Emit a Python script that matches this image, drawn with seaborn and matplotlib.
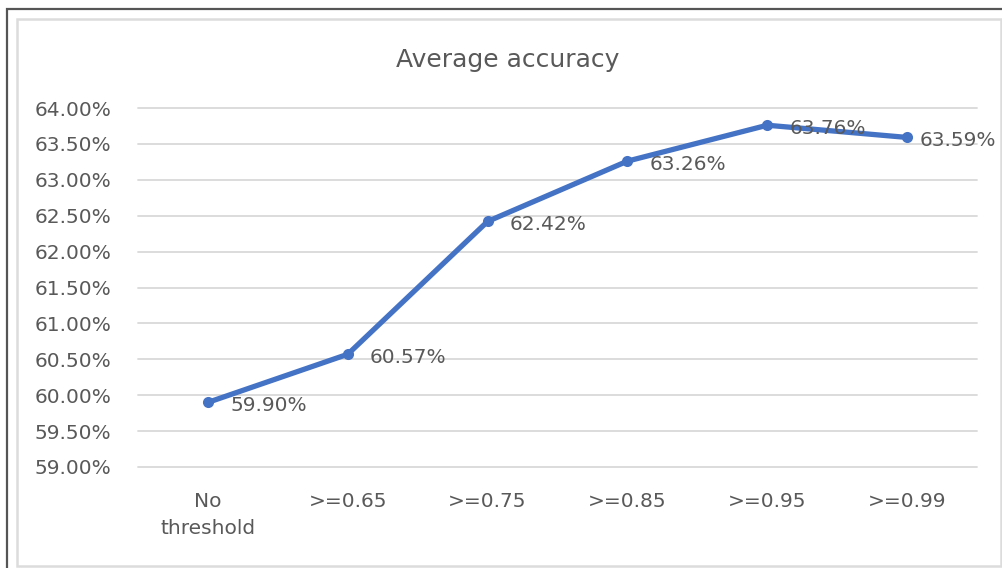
import matplotlib
matplotlib.use("Agg")
import matplotlib.pyplot as plt
from matplotlib.patches import Rectangle
from matplotlib.ticker import FuncFormatter, MultipleLocator
import seaborn as sns
import pandas as pd

# Accuracy per confidence threshold
thresholds = ["No\nthreshold", ">=0.65", ">=0.75", ">=0.85", ">=0.95", ">=0.99"]
accuracy = [59.90, 60.57, 62.42, 63.26, 63.76, 63.59]
title = "Average accuracy"

df = pd.DataFrame({"threshold": thresholds, "accuracy": accuracy})

sns.set_theme(style="white")
plt.rcParams["font.family"] = ["DejaVu Sans"]

TEXT = "#595959"
LINE = "#4472C4"
GRID = "#d9d9d9"

W, H = 1003, 568
fig = plt.figure(figsize=(W / 100, H / 100), dpi=100)
fig.patch.set_facecolor("white")

ax = fig.add_axes([138 / W, 1 - 467 / H, (977 - 138) / W, (467 - 108) / H])

sns.lineplot(data=df, x="threshold", y="accuracy", sort=False, ax=ax,
             color=LINE, linewidth=3.8, marker="o", markersize=8,
             markeredgewidth=0, markerfacecolor=LINE)

ax.set_xlim(-0.5, len(thresholds) - 0.5)
ax.set_ylim(59.0, 64.0)
ax.yaxis.set_major_locator(MultipleLocator(0.5))
ax.yaxis.set_major_formatter(FuncFormatter(lambda v, _: f"{v:.2f}%"))
ax.grid(axis="y", color=GRID, linewidth=1.3)
ax.set_axisbelow(True)
for s in ax.spines.values():
    s.set_visible(False)
ax.set_xlabel("")
ax.set_ylabel("")
ax.tick_params(axis="y", length=0, pad=19, labelsize=14.5, labelcolor=TEXT)
ax.tick_params(axis="x", length=0, pad=18, labelsize=14.5, labelcolor=TEXT)
for lab in ax.get_xticklabels():
    lab.set_linespacing(1.55)
fig.canvas.draw()
for gl in ax.get_ygridlines():
    gl.set_clip_on(False)

# Value labels to the right of each point
for i, (t, v) in enumerate(zip(thresholds, accuracy)):
    dx = 9 if i == len(thresholds) - 1 else 16
    ax.annotate(f"{v:.2f}%", (i, v), xytext=(dx, -2.5), textcoords="offset points",
                ha="left", va="center", fontsize=14.5, color=TEXT)

fig.text(508 / W, 1 - 60 / H, title, ha="center", va="center",
         fontsize=18, color=TEXT)

# Chart frame: dark outer edge and light inner border
fig.add_artist(Rectangle((7.5 / W, -0.1), 2, 1 - 9.5 / H + 0.1,
                         transform=fig.transFigure, fill=False,
                         edgecolor="#555555", linewidth=1.6))
fig.add_artist(Rectangle((16.5 / W, 1 - 566 / H), (1001 - 16.5) / W, (566 - 18.5) / H,
                         transform=fig.transFigure, fill=False,
                         edgecolor="#dcdcdc", linewidth=1.8))

fig.savefig("out.png", dpi=100, facecolor="white")
